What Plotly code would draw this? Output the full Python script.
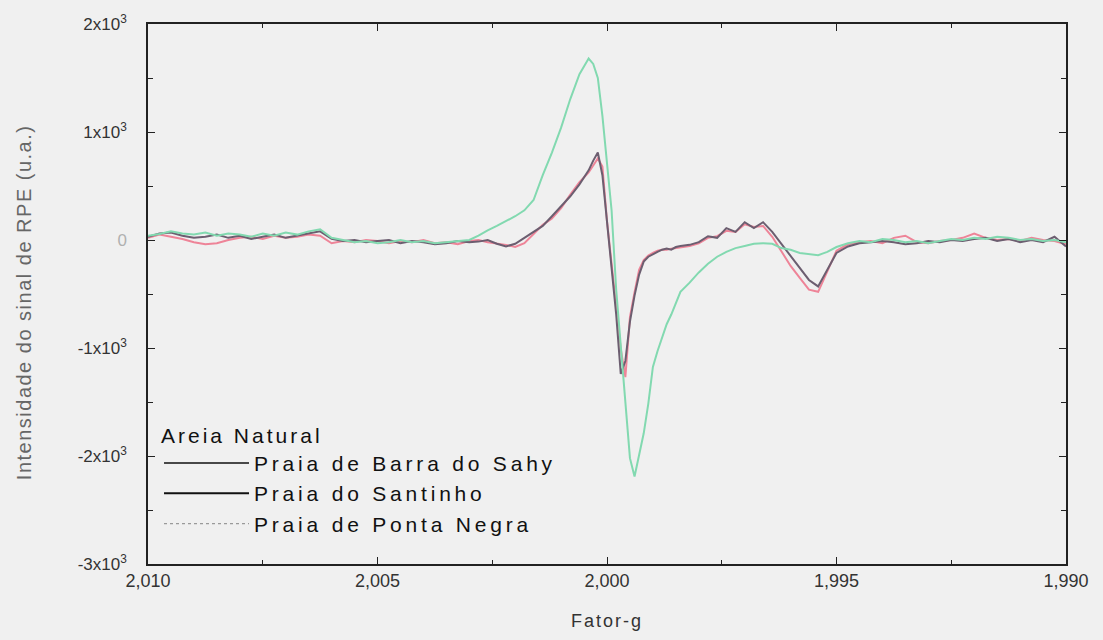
import plotly.graph_objects as go

# g-factor values (x)
g = [2.01000, 2.00975, 2.00950, 2.00925, 2.00900, 2.00875, 2.00850, 2.00825, 2.00800, 2.00775,
     2.00750, 2.00725, 2.00700, 2.00675, 2.00650, 2.00625, 2.00600, 2.00575, 2.00550, 2.00525,
     2.00500, 2.00475, 2.00450, 2.00425, 2.00400, 2.00375, 2.00350, 2.00325, 2.00300,
     2.0028, 2.0026, 2.0024, 2.0022, 2.0020, 2.0018, 2.0016, 2.0014, 2.0012, 2.0010,
     2.0008, 2.0006, 2.0004, 2.0003, 2.0002, 2.0001, 2.0000, 1.9999, 1.9998, 1.9997,
     1.9996, 1.9995, 1.9994, 1.9993, 1.9992, 1.9991, 1.9990, 1.9989, 1.9988, 1.9987,
     1.9986, 1.9985, 1.9984, 1.9982, 1.9980, 1.9978, 1.9976, 1.9974, 1.9972, 1.9970,
     1.9968, 1.9966, 1.9964, 1.9962, 1.9960, 1.9958, 1.9956, 1.9954, 1.9952, 1.9950,
     1.99475, 1.99450, 1.99425, 1.99400, 1.99375, 1.99350, 1.99325, 1.99300, 1.99275, 1.99250,
     1.99225, 1.99200, 1.99175, 1.99150, 1.99125, 1.99100, 1.99075, 1.99050, 1.99025, 1.99000]

# Praia de Barra do Sahy (pink)
sahy = [20, 50, 30, 10, -20, -40, -30, 0, 20, 30,
        10, 40, 20, 30, 50, 40, -30, -10, -20, 0,
        -10, -30, -10, -20, 0, -30, -20, -40, -10,
        0, -20, -30, -45, -65, -30, 55, 140, 200, 295,
        420, 535, 625, 690, 755, 680, 175, -220, -615, -1010,
        -1270, -715, -485, -275, -185, -145, -120, -100, -90, -90,
        -80, -75, -65, -55, -30, 20, 35, 85, 75, 145,
        120, 130, 30, -110, -240, -350, -460, -480, -295, -100,
        -40, -20, -10, -30, 20, 40, -20, -30, -10, 0,
        20, 60, 20, 0, 10, -10, 20, 0, -10, -40]

# Praia do Santinho (dark)
santinho = [30, 60, 70, 40, 20, 30, 50, 20, 40, 10,
            30, 50, 20, 40, 60, 80, 10, -10, 0, -20,
            -10, 0, -30, -10, -20, -40, -30, -10, -20,
            -15, 0, -35, -60, -35, 20, 75, 130, 220, 310,
            405, 515, 645, 735, 810, 600, 185, -255, -690, -1240,
            -1120, -755, -515, -320, -200, -155, -130, -110, -90, -80,
            -90, -65, -55, -45, -20, 35, 20, 110, 75, 165,
            110, 165, 75, -35, -155, -255, -370, -430, -275, -120,
            -60, -30, -20, -10, -20, -40, -30, -10, -20, 0,
            -10, 10, 20, -10, 10, -20, 0, -20, 30, -60]

# Praia de Ponta Negra (green)
ponta_negra = [40, 55, 80, 60, 50, 70, 40, 60, 50, 30,
               60, 40, 70, 50, 80, 100, 20, 0, -20, -10,
               -30, -20, 0, -20, -10, -30, -20, -10, 0,
               40, 90, 130, 175, 220, 275, 370, 600, 810, 1040,
               1305, 1535, 1680, 1630, 1500, 1150, 735, 275, -460, -1010,
               -1545, -2020, -2190, -1975, -1790, -1515, -1175, -1030, -900, -780,
               -690, -580, -480, -395, -300, -220, -155, -110, -75, -55,
               -35, -30, -35, -75, -90, -120, -130, -140, -110, -65,
               -30, -10, -20, 10, 0, -20, -10, -30, -10, 10,
               0, 20, 10, 30, 20, 0, 10, -10, 0, -20]

series_names = ["Praia de Barra do Sahy", "Praia do Santinho", "Praia de Ponta Negra"]
series_values = [sahy, santinho, ponta_negra]
series_colors = ["#ee8498", "#6c5e70", "#82d9b0"]
legend_colors = ["#111111", "#111111", "#9a9a9a"]
legend_dash = ["solid", "solid", "dot"]
legend_width = [1.5, 2.2, 1.2]

x_tickvals = [2.010, 2.005, 2.000, 1.995, 1.990]
x_ticktext = ["2,010", "2,005", "2,000", "1,995", "1,990"]
y_tickvals = [2000, 1000, 0, -1000, -2000, -3000]
y_ticktext = ["2x10<sup>3</sup>", "1x10<sup>3</sup>", "0",
              "-1x10<sup>3</sup>", "-2x10<sup>3</sup>", "-3x10<sup>3</sup>"]


def spaced(text, px, color=None):
    style = f"letter-spacing:{px}px"
    if color:
        style += f";color:{color}"
    return f"<span style='{style}'>{text}</span>"


fig = go.Figure()
for name, vals, col in zip(series_names, series_values, series_colors):
    fig.add_trace(go.Scatter(x=g, y=vals, mode="lines", name=name,
                             line=dict(color=col, width=2), showlegend=False,
                             legendgroup=name))
for name, col, dash, w in zip(series_names, legend_colors, legend_dash, legend_width):
    fig.add_trace(go.Scatter(x=[None], y=[None], mode="lines", name=spaced(name, 3.8),
                             line=dict(color=col, width=w, dash=dash), legendgroup=name))

bg = "#f0f0f0"
font_family = "Liberation Sans, Arial, sans-serif"
fig.update_layout(
    width=1103, height=640,
    margin=dict(l=148, r=37, t=22, b=74),
    paper_bgcolor=bg, plot_bgcolor=bg,
    font=dict(family=font_family, color="#222222"),
    showlegend=True,
    legend=dict(x=0.012, y=0.275, xanchor="left", yanchor="top",
                bgcolor="rgba(0,0,0,0)", borderwidth=0,
                font=dict(size=21, color="#111111"),
                title=dict(text=spaced("Areia Natural", 3), font=dict(size=21, color="#111111")),
                itemwidth=85, tracegroupgap=0),
    xaxis=dict(range=[2.010, 1.990], showgrid=False, zeroline=False,
               showline=True, linecolor="#222222", linewidth=1.5, mirror="allticks",
               ticks="inside", ticklen=7, tickwidth=1.2, tickcolor="#222222",
               tickvals=x_tickvals, ticktext=x_ticktext,
               tickfont=dict(size=18, color="#333333"),
               minor=dict(ticks="inside", dtick=0.0025, ticklen=4, tickcolor="#222222", tickwidth=1),
               title=dict(text=spaced("Fator-g", 2), font=dict(size=18, color="#333333"), standoff=24)),
    yaxis=dict(range=[-3000, 2000], showgrid=False, zeroline=False,
               showline=True, linecolor="#222222", linewidth=1.5, mirror="allticks",
               ticks="inside", ticklen=7, tickwidth=1.2, tickcolor="#222222",
               tickvals=y_tickvals,
               ticktext=[("<span style='color:#b0b0b0'>0</span>" if t == "0" else t) for t in y_ticktext],
               tickfont=dict(size=17, color="#333333"), ticklabelstandoff=16,
               minor=dict(ticks="inside", dtick=500, ticklen=5, tickcolor="#222222", tickwidth=1)),
    annotations=[dict(text=spaced("Intensidade do sinal de RPE (u.a.)", 1.5), textangle=-90,
                      xref="paper", yref="paper", x=-0.135, y=0.485,
                      xanchor="center", yanchor="middle", showarrow=False,
                      font=dict(size=20, color="#666666"))],
)

fig.write_html("out.html")
